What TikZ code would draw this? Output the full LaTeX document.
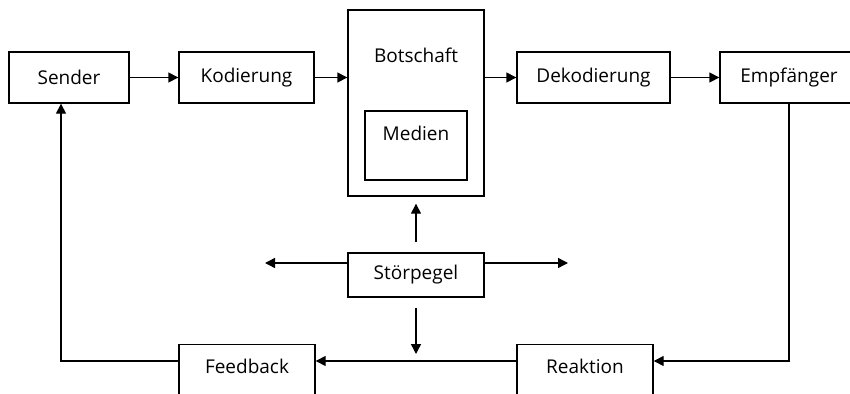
\documentclass[tikz,border=0pt]{standalone}
\usepackage{fontspec}
\setmainfont{Open Sans}
\usetikzlibrary{arrows.meta}
\begin{document}
\begin{tikzpicture}[x=1pt,y=-1pt,line cap=butt,line join=miter,line width=1.4pt,
	>={Triangle[length=10pt,width=10pt]},font=\fontsize{19}{22}\selectfont]
	\tikzset{box/.style={draw,inner sep=0pt,minimum height=51pt},
		txt/.style={anchor=base,inner sep=0pt}}
	\useasboundingbox (0,0) rectangle (850,393);
	% obere Reihe
	\node[box,minimum width=120pt] (sender) at (69,77.5) {Sender};
	\node[box,minimum width=135pt] (kod) at (246.5,77.5) {Kodierung};
	\node[box,minimum width=136pt,minimum height=186pt] (bot) at (416,103) {};
	\node[txt] (bottxt) at (416,63) {Botschaft};
	\node[box,minimum width=102pt,minimum height=69pt] (med) at (416,145.5) {};
	\node[txt] (medtxt) at (416,140) {Medien};
	\node[box,minimum width=153pt] (dek) at (593.5,77.5) {Dekodierung};
	\node[box,minimum width=138pt] (emp) at (789,77.5) {Empf\"anger};
	% Stoerung
	\node[box,minimum width=136pt,minimum height=44pt] (stoer) at (416,275) {St\"orpegel};
	% untere Reihe
	\node[box,minimum width=136pt,minimum height=80pt,anchor=north] (feed) at (247,344) {};
	\node[txt] (feedtxt) at (247,373) {Feedback};
	\node[box,minimum width=136pt,minimum height=80pt,anchor=north] (reak) at (585,344) {};
	\node[txt] (reaktxt) at (585,373) {Reaktion};
	\coordinate (loop) at (0,361);
	\coordinate (noiseL) at (265,263);
	\coordinate (noiseR) at (568,263);
	\draw[->] (sender.east) -- (kod.west);
	\draw[->] (kod.east) -- (kod.east -| bot.west);
	\draw[->] (bot.east |- dek.west) -- (dek.west);
	\draw[->] (dek.east) -- (emp.west);
	\draw[->] (emp.south) |- (reak.east |- loop);
	\draw[->] (reak.west |- loop) -- (feed.east |- loop);
	\draw[->] (feed.west |- loop) -| ([xshift=-8pt]sender.south);
	\draw[->] ([yshift=10pt]stoer.north) -- ([yshift=-7pt]bot.south);
	\draw[->] ([yshift=-10pt]stoer.south) -- ([yshift=7pt]stoer.south |- loop);
	\draw[->] ([yshift=12pt]stoer.west) -- (noiseL);
	\draw[->] ([yshift=12pt]stoer.east) -- (noiseR);
\end{tikzpicture}
\end{document}
